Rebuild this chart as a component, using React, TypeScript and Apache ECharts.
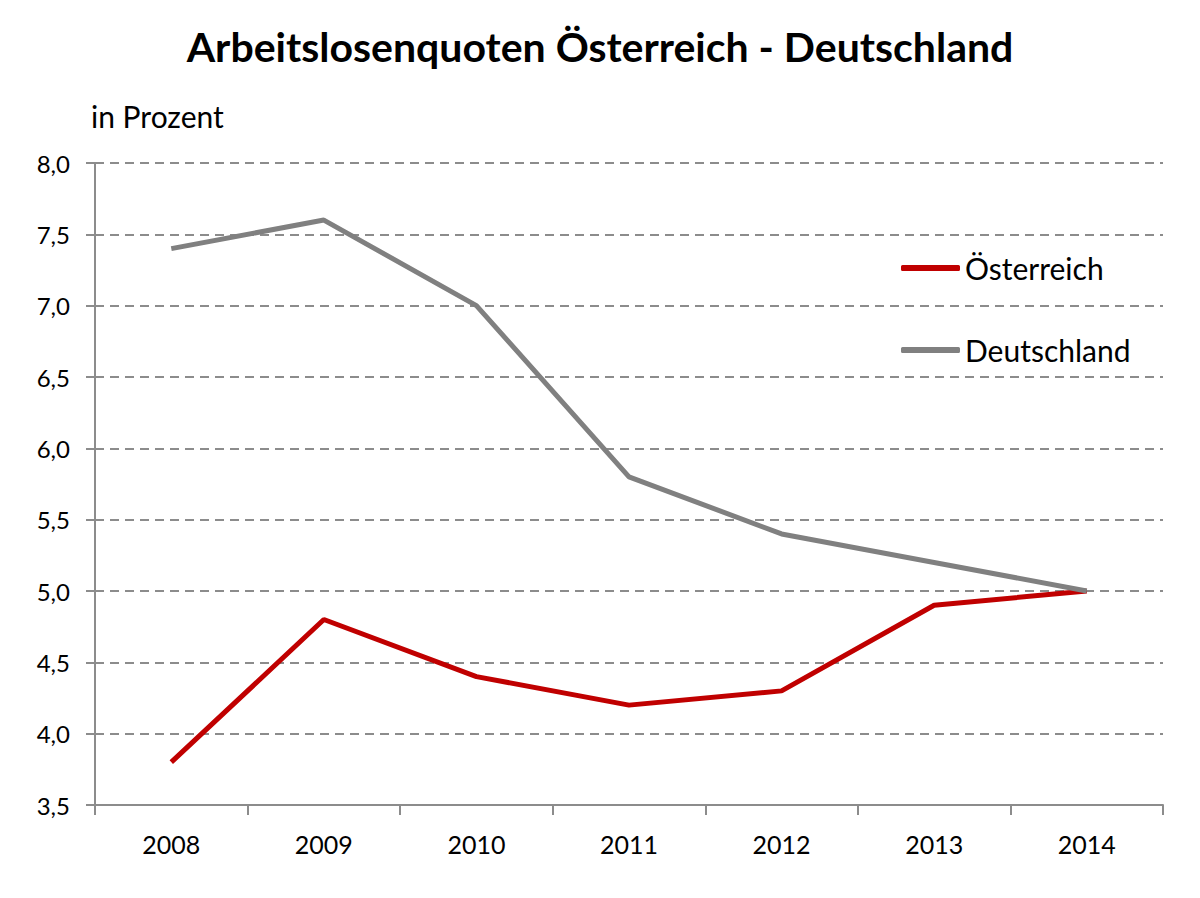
import React, { useEffect, useRef } from "react";
import * as echarts from "echarts";

const years = ["2008", "2009", "2010", "2011", "2012", "2013", "2014"];
const oesterreich = [3.8, 4.8, 4.4, 4.2, 4.3, 4.9, 5.0];
const deutschland = [7.4, 7.6, 7.0, 5.8, 5.4, 5.2, 5.0];

const FONT = "Lato, 'Open Sans', sans-serif";

export default function App() {
  const ref = useRef<HTMLDivElement>(null);
  useEffect(() => {
    if (!ref.current) return;
    const chart = echarts.init(ref.current, null, { renderer: "svg" });
    chart.setOption({
      animation: false,
      backgroundColor: "#ffffff",
      textStyle: { fontFamily: FONT, color: "#000" },
      title: [
        {
          text: "Arbeitslosenquoten Österreich - Deutschland",
          left: "center",
          top: 21,
          textStyle: { fontFamily: FONT, fontSize: 41, fontWeight: "bold", color: "#000" },
        },
        {
          text: "in Prozent",
          left: 86,
          top: 96,
          textStyle: { fontFamily: FONT, fontSize: 30, fontWeight: "normal", color: "#000" },
        },
      ],
      legend: {
        orient: "vertical",
        left: 896,
        top: 248,
        icon: "roundRect",
        itemWidth: 59,
        itemHeight: 6,
        itemGap: 52,
        textStyle: { fontFamily: FONT, fontSize: 30, color: "#000", lineHeight: 30 },
        data: ["Österreich", "Deutschland"],
      },
      grid: { left: 95, right: 37, top: 163, bottom: 93, containLabel: false },
      xAxis: {
        type: "category",
        data: years,
        boundaryGap: true,
        axisLine: { show: true, lineStyle: { color: "#8c8c8c", width: 2 } },
        axisTick: { show: true, length: 10, inside: false, lineStyle: { color: "#8c8c8c", width: 2 } },
        axisLabel: { fontFamily: FONT, fontSize: 25, color: "#000", margin: 26 },
      },
      yAxis: {
        type: "value",
        min: 3.5,
        max: 8.0,
        interval: 0.5,
        axisLine: { show: true, lineStyle: { color: "#8c8c8c", width: 2 } },
        axisTick: { show: true, length: 9, lineStyle: { color: "#8c8c8c", width: 2 } },
        axisLabel: {
          fontFamily: FONT,
          fontSize: 24,
          color: "#000",
          margin: 25,
          formatter: (v: number) => v.toFixed(1).replace(".", ","),
        },
        splitLine: {
          show: true,
          lineStyle: { color: "#8c8c8c", width: 2, type: [9, 6] },
        },
      },
      series: [
        {
          name: "Österreich",
          type: "line",
          data: oesterreich,
          symbol: "none",
          lineStyle: { color: "#c00000", width: 5 },
          itemStyle: { color: "#c00000" },
        },
        {
          name: "Deutschland",
          type: "line",
          data: deutschland,
          symbol: "none",
          lineStyle: { color: "#808080", width: 5 },
          itemStyle: { color: "#808080" },
        },
      ],
    });
    return () => chart.dispose();
  }, []);
  return (
    <div
      ref={ref}
      style={{ position: "fixed", left: 0, top: 0, width: 1200, height: 898 }}
    />
  );
}
